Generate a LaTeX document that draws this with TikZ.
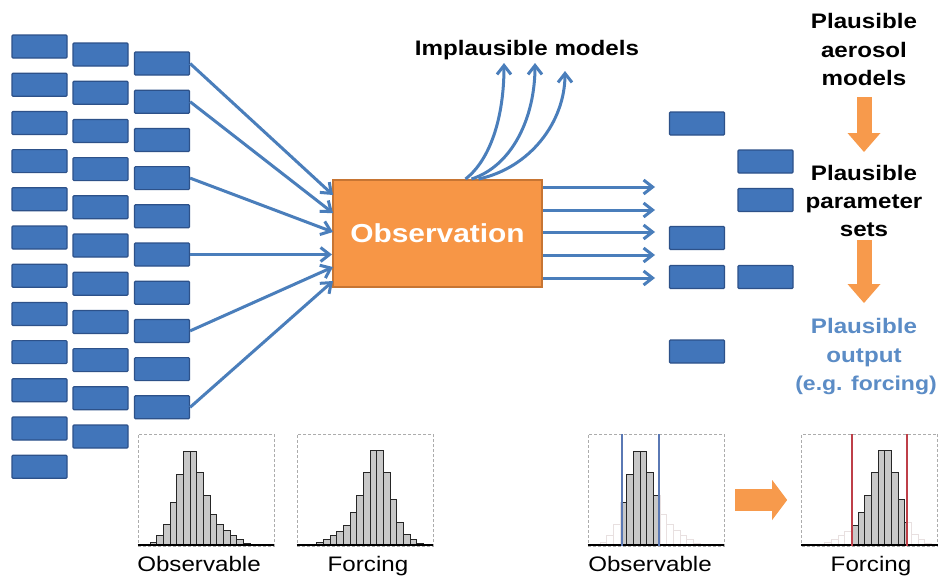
\documentclass[tikz,border=0pt]{standalone}
\usepackage{fontspec}
\setmainfont{Liberation Sans}[FakeStretch=1.15]
\usetikzlibrary{arrows.meta,calc}
\definecolor{boxfill}{HTML}{4175BA}
\definecolor{boxline}{HTML}{2D5189}
\definecolor{arrowblue}{HTML}{4A7EBB}
\definecolor{obsorange}{HTML}{F79646}
\definecolor{obsline}{HTML}{C77533}
\definecolor{arrorange}{HTML}{F79A4C}
\definecolor{outblue}{HTML}{5B8CC6}
\definecolor{barfill}{RGB}{200,200,200}
\definecolor{faintc}{RGB}{232,224,224}
\definecolor{cutblue}{HTML}{5A78B4}
\definecolor{cutred}{HTML}{BE3F48}
\newcommand{\histbars}[3]{\foreach \hh [count=\ii from 0] in {#2}{\draw[#3] ({#1+6.67*\ii},545) rectangle ({#1+6.67*(\ii+1)},{545-\hh});}}
\begin{document}
\begin{tikzpicture}[x=1pt,y=-1pt,
  mbox/.style={draw=boxline, fill=boxfill, line width=1.2pt, minimum width=55pt, minimum height=23pt, inner sep=0pt, rounded corners=1pt},
  barrow/.style={draw=arrowblue, line width=3pt, -{Straight Barb[length=9pt,width=14pt]}},
  obsbox/.style={draw=obsline, fill=obsorange, line width=2pt, minimum width=209pt, minimum height=107pt, inner sep=0pt, text=white, font=\fontsize{26}{30}\selectfont\bfseries},
  rtext/.style={font=\fontsize{21}{25}\selectfont\bfseries, anchor=base, inner sep=0pt},
  lab/.style={font=\fontsize{21}{25}\selectfont, anchor=base, inner sep=0pt},
  downarrow/.style={draw=arrorange, line width=15pt, -{Triangle[length=19pt,width=33pt,line width'=0pt]}},
  rightarrow/.style={draw=arrorange, line width=22pt, -{Triangle[length=15pt,width=40pt,line width'=0pt]}},
  hbox/.style={draw=gray!65, densely dashed, line width=0.7pt, minimum width=136pt, minimum height=112pt, inner sep=0pt},
  bar/.style={fill=barfill, draw=black!85, line width=0.9pt},
  faintbar/.style={draw=faintc, line width=0.8pt},
  baseln/.style={draw=black, line width=1.8pt},
  cutb/.style={draw=cutblue, line width=2pt},
  cutr/.style={draw=cutred, line width=2.4pt}
]
\useasboundingbox[fill=white] (0,0) rectangle (939,581);

% left columns of models
\foreach \i in {0,...,11} \node[mbox] (c1-\i) at (39.5,{46.5+38.2*\i}) {};
\foreach \i in {0,...,10} \node[mbox] (c2-\i) at (100.5,{54.5+38.2*\i}) {};
\foreach \i in {0,...,9} \node[mbox] (c3-\i) at (162,{63.5+38.2*\i}) {};

% observation
\node[obsbox] (obs) at (437.5,233.5) {Observation};

% incoming arrows
\coordinate (in0) at (333,195);
\coordinate (in1) at (333,213);
\coordinate (in2) at (333,232);
\coordinate (in4) at (333,267);
\coordinate (in5) at (333,281);
\draw[barrow] (c3-0.east) -- (in0);
\draw[barrow] (c3-1.east) -- (in1);
\draw[barrow] (c3-3.east) -- (in2);
\draw[barrow] (c3-5.east) -- (c3-5.east -| obs.west);
\draw[barrow] (c3-7.east) -- (in4);
\draw[barrow] (c3-9.east) -- (in5);

% implausible
\node[rtext] (impl) at (527,55) {Implausible models};
\coordinate (up1) at (504,63);
\coordinate (up2) at (535,63);
\coordinate (up3) at (565,71);
\draw[barrow] ([xshift=28pt]obs.north) .. controls (490,160) and (504,118) .. (up1);
\draw[barrow] ([xshift=34pt]obs.north) .. controls (512,166) and (535,118) .. (up2);
\draw[barrow] ([xshift=41pt]obs.north) .. controls (530,168) and (565,122) .. (up3);

% outgoing arrows
\foreach \y [count=\k from 0] in {187,210,232,255,278} \coordinate (out\k) at (655,\y);
\foreach \k in {0,...,4} \draw[barrow] (obs.east |- out\k) -- (out\k);

% right boxes
\node[mbox] (ra0) at (697,123.5) {};
\node[mbox] (ra1) at (697,238) {};
\node[mbox] (ra2) at (697,277) {};
\node[mbox] (ra3) at (697,351.5) {};
\node[mbox] (rb0) at (765.5,161.5) {};
\node[mbox] (rb1) at (765.5,200) {};
\node[mbox] (rb2) at (765.5,277) {};

% right texts
\node[rtext] (t1a) at (864,28) {Plausible};
\node[rtext] (t1b) at (864,57) {aerosol};
\node[rtext] (t1c) at (864,85) {models};
\node[rtext] (t2a) at (864,180) {Plausible};
\node[rtext] (t2b) at (864,208) {parameter};
\node[rtext] (t2c) at (864,236) {sets};
\node[rtext, text=outblue] (t3a) at (864,333) {Plausible};
\node[rtext, text=outblue] (t3b) at (864,362) {output};
\node[rtext, text=outblue, font=\fontsize{20}{25}\selectfont\bfseries] (t3c) at (866,390) {(e.g. forcing)};
\draw[downarrow] ([yshift=-12pt]t1c.base) -- ([yshift=28pt]t2a.base);
\draw[downarrow] ([yshift=-4pt]t2c.base) -- ([yshift=30pt]t3a.base);

% histograms
\node[hbox] (h1) at (206,490) {};
\node[hbox] (h2) at (365,490) {};
\node[hbox] (h3) at (656,490) {};
\node[hbox] (h4) at (869.5,490) {};

\histbars{143.3}{1,2.7,9.3,21,42.7,71,93.3,93.3,72.7,49.3,31,21,14.3,9.3,5.3,2,0.7}{bar}
\histbars{310}{1,2.7,5.3,9.3,13.3,20,32.7,49.3,72.7,94.3,94.3,72.7,46,22.7,11,5.3,2}{bar}
\histbars{593.3}{1,2.7,9.3,21,42.7,71,93.3,93.3,72.7,49.3,31,21,14.3,9.3,5.3,2,0.7}{faintbar}
\begin{scope}
\clip (622,430) rectangle (659,546);
\histbars{593.3}{1,2.7,9.3,21,42.7,71,93.3,93.3,72.7,49.3,31,21,14.3,9.3,5.3,2,0.7}{bar}
\end{scope}
\histbars{818}{1,2.7,5.3,9.3,13.3,20,32.7,49.3,72.7,94.3,94.3,72.7,46,22.7,11,5.3,2}{faintbar}
\begin{scope}
\clip (852,430) rectangle (907,546);
\histbars{818}{1,2.7,5.3,9.3,13.3,20,32.7,49.3,72.7,94.3,94.3,72.7,46,22.7,11,5.3,2}{bar}
\end{scope}
\foreach \h in {h1,h2,h3,h4} \draw[baseln] ([yshift=1pt]\h.south west) -- ([yshift=1pt]\h.south east);
\draw[cutb] (622,434) -- (622,546);
\draw[cutb] (659,434) -- (659,546);
\draw[cutr] (852,434) -- (852,546);
\draw[cutr] (907,434) -- (907,546);

\node[lab] (l1) at (199,571) {Observable};
\node[lab] (l2) at (368,571) {Forcing};
\node[lab] (l3) at (650,571) {Observable};
\node[lab] (l4) at (871,571) {Forcing};

\draw[rightarrow, shorten <=11pt, shorten >=14pt] ([yshift=-10pt]h3.east) -- ([yshift=-10pt]h4.west);
\end{tikzpicture}
\end{document}
